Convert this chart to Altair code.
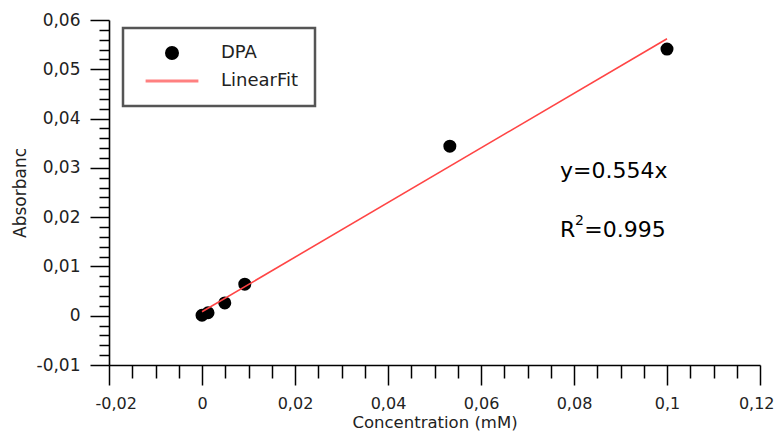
import altair as alt
import pandas as pd

# ---- data ----
conc = [0.0, 0.0013, 0.0049, 0.0092, 0.0533, 0.1000]
absorb = [0.0001, 0.0006, 0.0026, 0.0064, 0.0344, 0.0541]
fit_x = [0.0, 0.1]
fit_y = [0.0008, 0.0562]
series = ["DPA", "LinearFit"]
x_ticks = [i / 200 for i in range(-4, 25)]
y_ticks = [i / 500 for i in range(-5, 31)]
ann_text = ["y=0.554x", "R", "2", "=0.995"]
ann_x = [0.0770, 0.0770, 0.0802, 0.0822]
ann_y = [0.0279, 0.0160, 0.0184, 0.0160]
ann_size = [22, 22, 14, 22]

FONT = "DejaVu Sans"
TXT = "#222222"

pts = pd.DataFrame({"x": conc, "y": absorb, "series": series[0]})
fit = pd.DataFrame({"x": fit_x, "y": fit_y})
ann = pd.DataFrame({"t": ann_text, "x": ann_x, "y": ann_y, "s": ann_size})

xmajor = "abs(datum.value*50 - round(datum.value*50)) < 1e-6"
ymajor = "abs(datum.value*100 - round(datum.value*100)) < 1e-6"

xaxis = alt.Axis(
    values=x_ticks,
    title="Concentration (mM)",
    labelExpr=f"({xmajor}) ? replace(datum.value + '', '.', ',') : ''",
    tickSize={"condition": {"test": xmajor, "value": 20}, "value": 13},
    grid=False,
    labelOverlap=False,
    labelFlush=True,
    labelFlushOffset=14,
    labelPadding=10,
    labelFontSize=16,
    titlePadding=3,
    titleFontSize=16.5,
)
yaxis = alt.Axis(
    values=y_ticks,
    title="Absorbanc",
    labelExpr=f"({ymajor}) ? replace(datum.value + '', '.', ',') : ''",
    tickSize={"condition": {"test": ymajor, "value": 19}, "value": 10},
    grid=False,
    labelOverlap=False,
    labelFlush=False,
    labelPadding=10,
    labelFontSize=17,
    titlePadding=7,
    titleFontSize=17,
)
xscale = alt.Scale(domain=[-0.02, 0.12], nice=False, zero=False)
yscale = alt.Scale(domain=[-0.01, 0.06], nice=False, zero=False)


def xe():
    return alt.X("x:Q", scale=xscale, axis=xaxis)


def ye():
    return alt.Y("y:Q", scale=yscale, axis=yaxis)


def make_legend():
    return alt.Legend(
        title=None,
        orient="none",
        legendX=14,
        legendY=8,
        direction="vertical",
        padding=16,
        strokeColor="#555555",
        fillColor="#ffffff",
        symbolSize=121,
        symbolStrokeWidth=3,
        symbolOpacity=1,
        symbolOffset=24,
        labelOffset=40,
        rowPadding=7,
        labelFont=FONT,
        labelFontSize=18,
        labelColor=TXT,
    )


points = alt.Chart(pts).mark_point(size=121, opacity=1, strokeWidth=2, filled=False).encode(
    x=xe(),
    y=ye(),
    fill=alt.Fill("series:N", scale=alt.Scale(domain=series, range=["#000000", "transparent"]), legend=make_legend()),
    stroke=alt.Stroke("series:N", scale=alt.Scale(domain=series, range=["#000000", "#ff8080"]), legend=make_legend()),
    shape=alt.Shape("series:N", scale=alt.Scale(domain=series, range=["circle", "M-4.8,0L4.8,0"]), legend=make_legend()),
)
line = alt.Chart(fit).mark_line(strokeWidth=1.6, color="#ff4545").encode(x=xe(), y=ye())
text = alt.Chart(ann).mark_text(
    align="left", baseline="alphabetic", font=FONT, color="#000000"
).encode(
    x=xe(), y=ye(), text="t:N", size=alt.Size("s:Q", scale=None, legend=None)
)

chart = (
    alt.layer(points, line, text)
    .properties(
        width=651,
        height=345,
        autosize=alt.AutoSizeParams(type="none"),
        padding={"left": 101, "top": 12, "right": 14, "bottom": 68},
    )
    .configure_view(stroke=None)
    .configure_legend(strokeWidth=2.5)
    .configure_axis(
        domainColor="#000000",
        tickColor="#000000",
        domainWidth=1.6,
        tickWidth=1.5,
        labelFont=FONT,
        labelColor=TXT,
        titleFont=FONT,
        titleFontWeight="normal",
        titleColor=TXT,
    )
)

chart.save("out.html", embed_options={"renderer": "svg", "actions": False})
